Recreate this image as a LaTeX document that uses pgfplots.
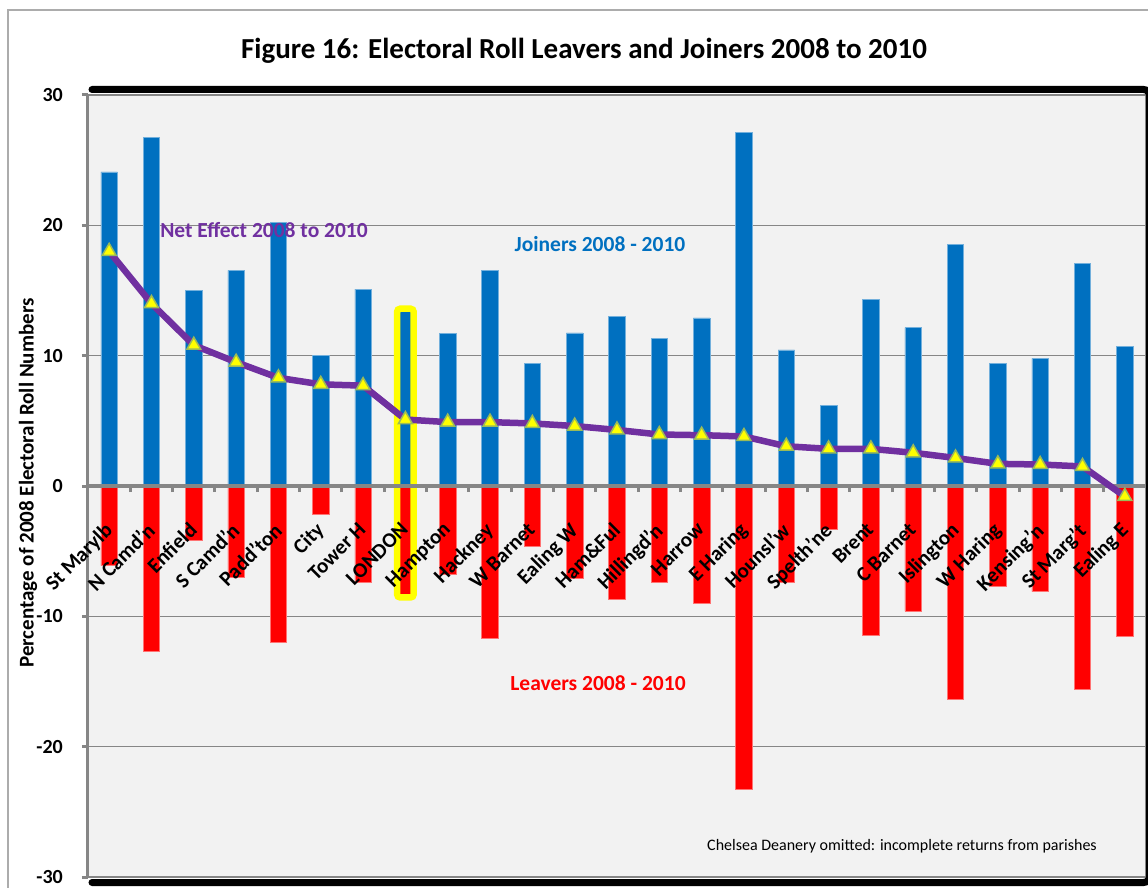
\documentclass[border=0pt]{standalone}
\usepackage{fontspec}
\setmainfont{Carlito}
\usepackage{pgfplots}
\pgfplotsset{compat=1.18}
\usepackage{pgfplotstable}
\usetikzlibrary{calc}
\definecolor{jblue}{HTML}{0070C0}
\definecolor{lred}{HTML}{FF0000}
\definecolor{npurple}{HTML}{7030A0}
\definecolor{plotbg}{HTML}{F2F2F2}
\definecolor{axgray}{HTML}{868686}
\definecolor{mkedge}{HTML}{9BBB59}
\definecolor{hiyel}{HTML}{FFFF00}

\pgfplotsset{
  layers/mylayers/.define layer set={axis background,axis grid,axis ticks,axis lines,pre main,main,axis tick labels,axis descriptions,axis foreground}{
    grid style={/pgfplots/on layer=axis grid},
    tick style={/pgfplots/on layer=axis ticks},
    axis line style={/pgfplots/on layer=axis lines},
    label style={/pgfplots/on layer=axis descriptions},
    legend style={/pgfplots/on layer=axis descriptions},
    title style={/pgfplots/on layer=axis descriptions},
    ticklabel style={/pgfplots/on layer=axis tick labels},
    axis background@ style={/pgfplots/on layer=axis background},
  },
}

\pgfplotstableread{
idx J L N
0 24.1 -6.1 18.0
1 26.75 -12.7 14.0
2 15.0 -4.2 10.8
3 16.55 -7.0 9.5
4 20.25 -12.0 8.3
5 10.0 -2.2 7.8
6 15.1 -7.4 7.7
7 13.6 -8.55 5.1
8 11.7 -6.8 4.9
9 16.55 -11.7 4.9
10 9.4 -4.6 4.8
11 11.75 -7.1 4.6
12 13.0 -8.7 4.3
13 11.35 -7.4 3.95
14 12.9 -9.0 3.9
15 27.1 -23.3 3.8
16 10.45 -7.4 3.05
17 6.2 -3.3 2.85
18 14.3 -11.45 2.85
19 12.15 -9.6 2.55
20 18.55 -16.4 2.15
21 9.4 -7.7 1.7
22 9.8 -8.1 1.65
23 17.1 -15.6 1.5
24 10.7 -11.5 -0.8
}\data

\newcommand{\xl}{\bfseries\fontsize{21}{21}\selectfont}

\begin{document}
\begin{tikzpicture}[x=1pt,y=1pt]
\begin{axis}[
  set layers=mylayers,
  scale only axis, width=1058pt, height=782pt,
  xmin=-0.5, xmax=24.5, ymin=-30, ymax=30,
  axis background/.style={fill=plotbg},
  axis x line*=middle, axis y line*=left,
  hide obscured y ticks=false,
  x axis line style={axgray, line width=4pt},
  y axis line style={axgray, line width=3pt},
  tick align=outside,
  major tick length=6pt,
  tick style={axgray, line width=3pt},
  ytick={-30,-20,-10,0,10,20,30},
  yticklabels={-30,-20,-10,0,10,20,30},
  yticklabel style={font=\bfseries\fontsize{20}{20}\selectfont, inner sep=0pt, xshift=-19pt},
  xtick={0.5,1.5,...,23.5},
  xticklabels={},
  extra x ticks={0,1,...,24},
  extra x tick labels={\xl St Marylb,\xl N Camd'n,\xl Enfield,\xl S Camd'n,\xl Padd'ton,\xl City,\xl Tower H,\xl LONDON,\xl Hampton,\xl Hackney,\xl W Barnet,\xl Ealing W,\xl Ham\&Ful,\xl Hillingd'n,\xl Harrow,\xl E Haring,\xl Hounsl'w,\xl Spelth'ne,\xl Brent,\xl C Barnet,\xl Islington,\xl W Haring,\xl Kensing'n,\xl St Marg't,\xl Ealing E},
  extra x tick style={tick style={draw=none}},
  xticklabel style={font=\xl, inner sep=0pt, xshift=-6pt, yshift=-29pt, rotate=45, anchor=north east},
  ymajorgrids,
  grid style={axgray, line width=1.3pt},
  clip=false,
]
\coordinate (BL) at (rel axis cs:0,0);
\addplot[ybar, bar width=16.5pt, bar shift=0pt, fill=lred, draw=lred!55, line width=0.6pt] table[x=idx,y=L]{\data};
\addplot[ybar, bar width=16.5pt, bar shift=0pt, fill=jblue, draw=jblue!55, line width=0.6pt] table[x=idx,y=J]{\data};
\draw[hiyel, line width=6.5pt, rounded corners=3pt] (axis cs:6.805,13.6) rectangle (axis cs:7.195,-8.55);
\draw[axgray, line width=4pt] (rel axis cs:0,0.5) -- (rel axis cs:1,0.5);
\draw[axgray, line width=2pt] (rel axis cs:0,1) -- (rel axis cs:1,1) -- (rel axis cs:1,0) -- (rel axis cs:0,0);
\addplot[npurple, line width=6.5pt, mark=triangle*, mark size=8pt, mark options={fill=hiyel, draw=mkedge, line width=1.5pt, solid}] table[x=idx,y=N]{\data};
\end{axis}
\pgfresetboundingbox
\begin{scope}[shift={($(BL)+(-88,-10)$)}]
\path[use as bounding box] (0,0) rectangle (1148,887);
% outer chart border
\draw[gray!65, line width=1.5pt] (8,-20) -- (8,877) -- (1200,877);
% black frame band
\draw[black, line width=7pt, line cap=round, rounded corners=6pt] (92,797.5) -- (1149.5,797.5) -- (1149.5,4.5) -- (92,4.5);
% title
\node[anchor=base, font=\bfseries\fontsize{29}{29}\selectfont] at (584,828) {Figure 16: Electoral Roll Leavers and Joiners 2008 to 2010};
% annotations
\node[rotate=90, font=\bfseries\fontsize{21}{21}\selectfont] at (28,404) {Percentage of 2008 Electoral Roll Numbers};
\node[anchor=base, text=npurple, font=\bfseries\fontsize{21.5}{21.5}\selectfont] at (264,649) {Net Effect 2008 to 2010};
\node[anchor=base, text=jblue, font=\bfseries\fontsize{21.5}{21.5}\selectfont] at (600,635) {Joiners 2008 - 2010};
\node[anchor=base, text=lred, font=\bfseries\fontsize{21.5}{21.5}\selectfont] at (598,197) {Leavers 2008 - 2010};
\node[anchor=base, font=\fontsize{16}{16}\selectfont] at (902,37) {Chelsea Deanery omitted: incomplete returns from parishes};
\end{scope}
\end{tikzpicture}
\end{document}
